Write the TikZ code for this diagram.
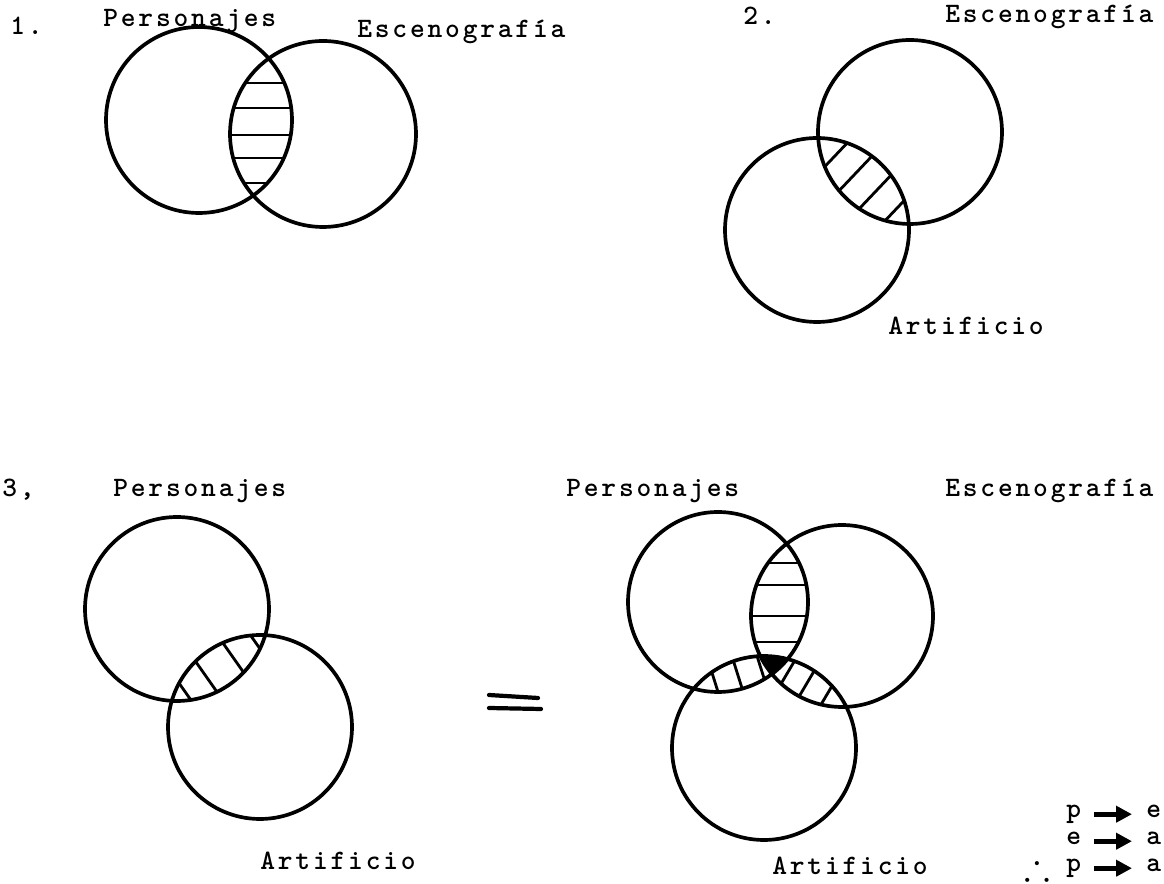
\documentclass[tikz,border=0pt]{standalone}
\usepackage{fontspec}
\usepackage{amssymb}
\usetikzlibrary{arrows.meta,calc}
\newfontfamily\typewriter[LetterSpace=10]{lmmonolt10-bold.otf}

\begin{document}
\begin{tikzpicture}[x=0.02cm,y=-0.02cm,
  every node/.style={font=\typewriter\fontsize{16}{18}\selectfont, inner sep=0pt},
  venn/.style={line width=2.1pt},
  hatch/.style={line width=1.6pt},
  legarrow/.style={-{Triangle[length=9pt,width=9pt]}, line width=3pt,
    shorten <=0.26cm, shorten >=0.28cm}]
  \useasboundingbox (0,0) rectangle (1164,884);

  % 1. personajes / escenografia
  \coordinate (pers1) at (199,120);
  \coordinate (esc1) at (323,134);
  \begin{scope}
    \clip (pers1) circle[radius=93];
    \clip (esc1) circle[radius=93];
    \foreach \y in {83,108,135,158,183}
      \draw[hatch] (200,\y) -- (340,\y);
  \end{scope}
  \draw[venn] (pers1) circle[radius=93] (esc1) circle[radius=93];
  \node[anchor=base west] (num1) at (10,35) {1.};
  \node[anchor=base west] (lbl1p) at (103,27) {Personajes};
  \node[anchor=base west] (lbl1e) at (357,38) {Escenografía};

  % 2. escenografia / artificio
  \coordinate (esc2) at (910,132);
  \coordinate (art2) at (817,230);
  \begin{scope}
    \clip (esc2) circle[radius=92];
    \clip (art2) circle[radius=92];
    \foreach \s in {0.76,0.22,-0.32,-0.86}
      \draw[hatch] ($(art2)!\s cm!90:(esc2)$) -- ($(esc2)!\s cm!-90:(art2)$);
  \end{scope}
  \draw[venn] (esc2) circle[radius=92] (art2) circle[radius=92];
  \node[anchor=base west] (num2) at (743,25) {2.};
  \node[anchor=base west] (lbl2e) at (945,23) {Escenografía};
  \node[anchor=base west] (lbl2a) at (888,335) {Artificio};

  % 3. personajes / artificio
  \coordinate (pers3) at (177,609);
  \coordinate (art3) at (260,727);
  \begin{scope}
    \clip (pers3) circle[radius=92];
    \clip (art3) circle[radius=92];
    \foreach \s in {-0.82,-0.3,0.36,0.9}
      \draw[hatch] ($(pers3)!\s cm!90:(art3)$) -- ($(art3)!\s cm!-90:(pers3)$);
  \end{scope}
  \draw[venn] (pers3) circle[radius=92] (art3) circle[radius=92];
  \node[anchor=base west] (num3) at (2,497) {3,};
  \node[anchor=base west] (lbl3p) at (113,497) {Personajes};
  \node[anchor=base west] (lbl3a) at (260,870) {Artificio};

  % equals
  \draw[line width=2.4pt, line cap=round] (489,695) -- (538,698);
  \draw[line width=2.4pt, line cap=round] (489,708) -- (541,709);

  % the three together
  \coordinate (pers4) at (718,602);
  \coordinate (esc4) at (842,616);
  \coordinate (art4) at (764,748);
  \begin{scope}
    \clip (pers4) circle[radius=90];
    \clip (esc4) circle[radius=91];
    \foreach \y in {563,585,616,642}
      \draw[hatch] (720,\y) -- (850,\y);
  \end{scope}
  \begin{scope}
    \clip (pers4) circle[radius=90];
    \clip (art4) circle[radius=92];
    \foreach \s in {-0.54,-0.06,0.42}
      \draw[hatch] ($(pers4)!\s cm!90:(art4)$) -- ($(art4)!\s cm!-90:(pers4)$);
  \end{scope}
  \begin{scope}
    \clip (esc4) circle[radius=91];
    \clip (art4) circle[radius=92];
    \foreach \s in {-0.36,0.08,0.54}
      \draw[hatch] ($(esc4)!\s cm!90:(art4)$) -- ($(art4)!\s cm!-90:(esc4)$);
  \end{scope}
  \begin{scope}
    \clip (pers4) circle[radius=90];
    \clip (esc4) circle[radius=91];
    \fill (art4) circle[radius=92];
  \end{scope}
  \draw[venn] (pers4) circle[radius=90] (esc4) circle[radius=91]
    (art4) circle[radius=92];
  \node[anchor=base west] (lbl4p) at (566,497) {Personajes};
  \node[anchor=base west] (lbl4e) at (945,497) {Escenografía};
  \node[anchor=base west] (lbl4a) at (772,875) {Artificio};

  % p -> e, e -> a, so p -> a
  \node[anchor=base west] (lp1) at (1066,818) {p};
  \node[anchor=base west] (le1) at (1146,818) {e};
  \node[anchor=base west] (le2) at (1066,845) {e};
  \node[anchor=base west] (la2) at (1146,845) {a};
  \node (ergo) at (1037,866) {\fontsize{22}{24}\selectfont$\therefore$};
  \node[anchor=base west] (lp3) at (1066,872) {p};
  \node[anchor=base west] (la3) at (1146,872) {a};
  \draw[legarrow] (lp1.mid east) -- (le1.mid west);
  \draw[legarrow] (le2.mid east) -- (la2.mid west);
  \draw[legarrow] (lp3.mid east) -- (la3.mid west);
\end{tikzpicture}
\end{document}
